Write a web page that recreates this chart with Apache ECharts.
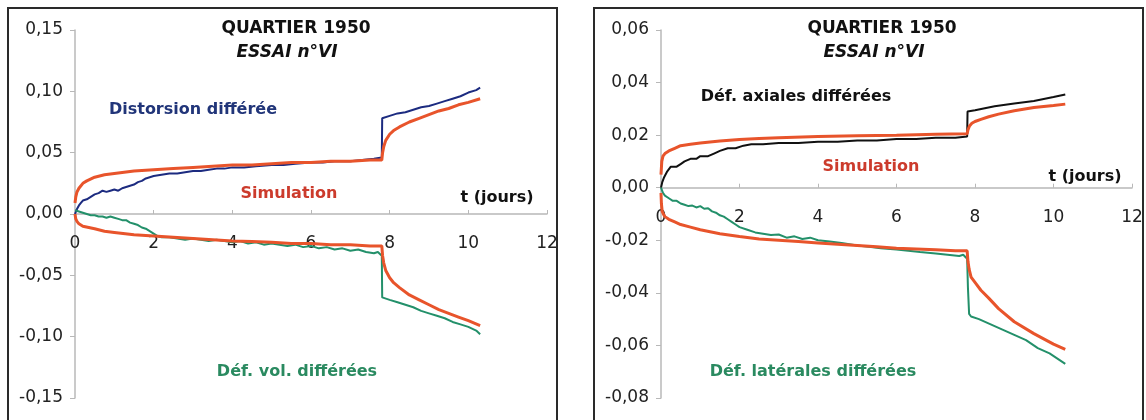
<!DOCTYPE html>
<html>
<head>
<meta charset="utf-8">
<script src="https://cdn.jsdelivr.net/npm/echarts@6/dist/echarts.min.js"></script>
<style>
html,body{margin:0;padding:0;background:#fff;}
#c{width:1146px;height:420px;}
</style>
</head>
<body>
<div id="c"></div>
<script>
// ---- tick labels / axes ----
const xTicks = [0, 2, 4, 6, 8, 10, 12];
const leftYTicks = [-0.15, -0.10, -0.05, 0.00, 0.05, 0.10, 0.15];
const rightYTicks = [-0.08, -0.06, -0.04, -0.02, 0.00, 0.02, 0.04, 0.06];

// ---- left panel data: [t (jours), value] ----
const distorsionExp = [[0,0],[0.05,0.004],[0.1,0.007],[0.15,0.009],[0.2,0.011],[0.3,0.012],[0.4,0.014],[0.5,0.016],[0.6,0.017],[0.7,0.019],[0.8,0.018],[0.9,0.019],[1.0,0.020],[1.1,0.019],[1.2,0.021],[1.3,0.022],[1.4,0.023],[1.5,0.024],[1.6,0.026],[1.7,0.027],[1.8,0.029],[1.9,0.030],[2.0,0.031],[2.2,0.032],[2.4,0.033],[2.6,0.033],[2.8,0.034],[3.0,0.035],[3.2,0.035],[3.4,0.036],[3.6,0.037],[3.8,0.037],[4.0,0.038],[4.3,0.038],[4.6,0.039],[5.0,0.040],[5.3,0.040],[5.6,0.041],[6.0,0.042],[6.3,0.042],[6.6,0.043],[7.0,0.043],[7.3,0.044],[7.6,0.045],[7.8,0.046],[7.81,0.078],[8.0,0.080],[8.2,0.082],[8.4,0.083],[8.6,0.085],[8.8,0.087],[9.0,0.088],[9.2,0.090],[9.4,0.092],[9.6,0.094],[9.8,0.096],[10.0,0.099],[10.2,0.101],[10.3,0.103]];
const distorsionSim = [[0,0.009],[0.02,0.014],[0.05,0.018],[0.1,0.021],[0.2,0.025],[0.3,0.027],[0.5,0.030],[0.75,0.032],[1.0,0.033],[1.5,0.035],[2.0,0.036],[2.5,0.037],[3.0,0.038],[3.5,0.039],[4.0,0.040],[4.5,0.040],[5.0,0.041],[5.5,0.042],[6.0,0.042],[6.5,0.043],[7.0,0.043],[7.5,0.044],[7.8,0.044],[7.82,0.050],[7.85,0.055],[7.9,0.060],[8.0,0.065],[8.1,0.068],[8.25,0.071],[8.5,0.075],[8.75,0.078],[9.0,0.081],[9.25,0.084],[9.5,0.086],[9.75,0.089],[10.0,0.091],[10.3,0.094]];
const volExp = [[0,0.003],[0.1,0.002],[0.2,0.001],[0.3,0.0],[0.4,-0.001],[0.5,-0.001],[0.6,-0.002],[0.7,-0.002],[0.8,-0.003],[0.9,-0.002],[1.0,-0.003],[1.1,-0.004],[1.2,-0.005],[1.3,-0.005],[1.4,-0.007],[1.5,-0.008],[1.6,-0.009],[1.7,-0.011],[1.8,-0.012],[1.9,-0.014],[2.0,-0.016],[2.1,-0.018],[2.2,-0.019],[2.4,-0.019],[2.6,-0.020],[2.8,-0.021],[3.0,-0.020],[3.2,-0.021],[3.4,-0.022],[3.6,-0.021],[3.8,-0.022],[4.0,-0.023],[4.2,-0.022],[4.4,-0.024],[4.6,-0.023],[4.8,-0.025],[5.0,-0.024],[5.2,-0.025],[5.4,-0.026],[5.6,-0.025],[5.8,-0.027],[6.0,-0.026],[6.2,-0.028],[6.4,-0.027],[6.6,-0.029],[6.8,-0.028],[7.0,-0.030],[7.2,-0.029],[7.4,-0.031],[7.6,-0.032],[7.7,-0.031],[7.8,-0.034],[7.81,-0.068],[8.0,-0.070],[8.2,-0.072],[8.4,-0.074],[8.6,-0.076],[8.8,-0.079],[9.0,-0.081],[9.2,-0.083],[9.4,-0.085],[9.6,-0.088],[9.8,-0.090],[10.0,-0.092],[10.2,-0.095],[10.3,-0.098]];
const volSim = [[0,0],[0.02,-0.004],[0.05,-0.006],[0.1,-0.008],[0.2,-0.010],[0.35,-0.011],[0.5,-0.012],[0.75,-0.014],[1.0,-0.015],[1.5,-0.017],[2.0,-0.018],[2.5,-0.019],[3.0,-0.020],[3.5,-0.021],[4.0,-0.022],[4.5,-0.0225],[5.0,-0.023],[5.5,-0.024],[6.0,-0.024],[6.5,-0.025],[7.0,-0.025],[7.5,-0.026],[7.8,-0.026],[7.82,-0.034],[7.85,-0.040],[7.9,-0.046],[8.0,-0.052],[8.1,-0.056],[8.25,-0.060],[8.5,-0.066],[8.75,-0.070],[9.0,-0.074],[9.25,-0.078],[9.5,-0.081],[9.75,-0.084],[10.0,-0.087],[10.3,-0.091]];

// ---- right panel data ----
const axialExp = [[0,0],[0.03,0.002],[0.08,0.004],[0.15,0.006],[0.25,0.008],[0.4,0.008],[0.5,0.009],[0.6,0.010],[0.75,0.011],[0.9,0.011],[1.0,0.012],[1.2,0.012],[1.35,0.013],[1.5,0.014],[1.7,0.015],[1.9,0.015],[2.1,0.016],[2.3,0.0165],[2.6,0.0165],[3.0,0.017],[3.5,0.017],[4.0,0.0175],[4.5,0.0175],[5.0,0.018],[5.5,0.018],[6.0,0.0185],[6.5,0.0185],[7.0,0.019],[7.5,0.019],[7.8,0.0195],[7.81,0.029],[8.0,0.0295],[8.5,0.031],[9.0,0.032],[9.5,0.033],[10.0,0.0345],[10.3,0.0355]];
const axialSim = [[0,0.005],[0.02,0.010],[0.05,0.012],[0.1,0.013],[0.2,0.014],[0.35,0.015],[0.5,0.016],[0.75,0.0165],[1.0,0.017],[1.5,0.0178],[2.0,0.0183],[2.5,0.0187],[3.0,0.019],[4.0,0.0195],[5.0,0.0198],[6.0,0.020],[7.0,0.0203],[7.8,0.0205],[7.82,0.022],[7.86,0.0235],[7.92,0.0245],[8.0,0.0252],[8.15,0.026],[8.35,0.027],[8.6,0.028],[9.0,0.0293],[9.5,0.0305],[10.0,0.0313],[10.3,0.0318]];
const latExp = [[0,0],[0.05,-0.002],[0.1,-0.003],[0.2,-0.004],[0.3,-0.005],[0.4,-0.005],[0.5,-0.006],[0.6,-0.0065],[0.7,-0.007],[0.8,-0.0068],[0.9,-0.0075],[1.0,-0.007],[1.1,-0.008],[1.2,-0.0078],[1.3,-0.009],[1.4,-0.0095],[1.5,-0.0105],[1.6,-0.011],[1.7,-0.012],[1.8,-0.013],[1.9,-0.014],[2.0,-0.015],[2.2,-0.016],[2.4,-0.017],[2.6,-0.0175],[2.8,-0.018],[3.0,-0.0178],[3.2,-0.019],[3.4,-0.0185],[3.6,-0.0195],[3.8,-0.019],[4.0,-0.020],[4.3,-0.0205],[4.6,-0.021],[5.0,-0.022],[5.3,-0.0225],[5.6,-0.023],[6.0,-0.0235],[6.3,-0.024],[6.6,-0.0245],[7.0,-0.025],[7.3,-0.0255],[7.6,-0.026],[7.7,-0.0255],[7.8,-0.027],[7.82,-0.038],[7.85,-0.048],[7.9,-0.049],[8.1,-0.050],[8.4,-0.052],[8.7,-0.054],[9.0,-0.056],[9.3,-0.058],[9.6,-0.061],[9.9,-0.063],[10.1,-0.065],[10.3,-0.067]];
const latSim = [[0,-0.002],[0.01,-0.006],[0.03,-0.009],[0.06,-0.010],[0.1,-0.011],[0.2,-0.012],[0.35,-0.013],[0.5,-0.014],[0.75,-0.015],[1.0,-0.016],[1.5,-0.0175],[2.0,-0.0186],[2.5,-0.0195],[3.0,-0.020],[3.5,-0.0205],[4.0,-0.021],[4.5,-0.0215],[5.0,-0.022],[5.5,-0.0225],[6.0,-0.023],[6.5,-0.0233],[7.0,-0.0236],[7.5,-0.024],[7.8,-0.024],[7.82,-0.028],[7.85,-0.031],[7.9,-0.034],[8.0,-0.036],[8.15,-0.039],[8.35,-0.042],[8.6,-0.046],[9.0,-0.051],[9.5,-0.0555],[10.0,-0.0595],[10.3,-0.0615]];

// ---- texts ----
const titleLine1 = 'QUARTIER 1950';
const titleLine2 = 'ESSAI n°VI';

const FONT = '"DejaVu Sans", "Liberation Sans", Arial, sans-serif';
const C_RED = '#e8542b', C_BLUE = '#1c2b80', C_GREEN = '#23906a', C_BLACK = '#111111';
const GRID_H = 368;

function fmt(v){ return v.toFixed(2).replace('.', ',').replace('-0,00','0,00'); }

function xAxis(gi, yticks){
  const ymin = yticks[0], ymax = yticks[yticks.length-1];
  // move the x axis up to the y = 0 line
  const off = -((0 - ymin) / (ymax - ymin)) * GRID_H;
  return {
    gridIndex: gi, type: 'value', min: xTicks[0], max: xTicks[xTicks.length-1], interval: 2,
    position: 'bottom', offset: off,
    axisLine: {onZero: false, lineStyle: {color: '#b8b8b8', width: 1.5}},
    axisTick: {inside: true, length: 4, lineStyle: {color: '#b8b8b8'}},
    splitLine: {show: false},
    axisLabel: {margin: 21, color: '#222', fontSize: 17, fontFamily: FONT}
  };
}
function yAxis(gi, ticks){
  return {
    gridIndex: gi, type: 'value', min: ticks[0], max: ticks[ticks.length-1], interval: Math.round((ticks[1]-ticks[0])*100)/100,
    axisLine: {show: true, onZero: false, lineStyle: {color: '#b8b8b8', width: 1.5}},
    axisTick: {show: true, length: 5, lineStyle: {color: '#b8b8b8'}},
    splitLine: {show: false},
    axisLabel: {margin: 12, color: '#222', fontSize: 17, fontFamily: FONT, formatter: fmt}
  };
}
function line(gi, data, color, w, z){
  return {type: 'line', xAxisIndex: gi, yAxisIndex: gi, data: data, showSymbol: false, symbol: 'none',
    lineStyle: {color: color, width: w}, z: z, animation: false, silent: true};
}
function txt(x, y, s, color, style, size){
  return {type: 'text', x: x, y: y, z: 100, style: {text: s, fill: color, font: (style || 'bold') + ' ' + (size || 16) + 'px ' + FONT, textAlign: 'center', textVerticalAlign: 'middle'}};
}

const chart = echarts.init(document.getElementById('c'), null, {renderer: 'canvas'});
chart.setOption({
  animation: false,
  backgroundColor: '#ffffff',
  grid: [
    {left: 75, top: 30, width: 472, height: GRID_H, containLabel: false, outerBoundsMode: 'none'},
    {left: 661, top: 30, width: 471, height: GRID_H, containLabel: false, outerBoundsMode: 'none'}
  ],
  xAxis: [xAxis(0, leftYTicks), xAxis(1, rightYTicks)],
  yAxis: [yAxis(0, leftYTicks), yAxis(1, rightYTicks)],
  series: [
    line(0, distorsionExp, C_BLUE, 2, 2),
    line(0, volExp, C_GREEN, 2, 2),
    line(0, distorsionSim, C_RED, 3, 3),
    line(0, volSim, C_RED, 3, 3),
    line(1, axialExp, C_BLACK, 2, 2),
    line(1, latExp, C_GREEN, 2, 2),
    line(1, axialSim, C_RED, 3, 3),
    line(1, latSim, C_RED, 3, 3)
  ],
  graphic: [
    {type: 'rect', shape: {x: 8, y: 8, width: 549, height: 430}, style: {fill: null, stroke: '#2a2a2a', lineWidth: 2}, z: 50},
    {type: 'rect', shape: {x: 594, y: 8, width: 549, height: 430}, style: {fill: null, stroke: '#2a2a2a', lineWidth: 2}, z: 50},
    txt(296, 29, titleLine1, '#111', 'bold', 17),
    txt(287, 53, titleLine2, '#111', 'italic bold', 17),
    txt(193, 110, 'Distorsion différée', '#213579'),
    txt(289, 194, 'Simulation', '#cc3b2c'),
    txt(497, 198, 't (jours)', '#111'),
    txt(297, 372, 'Déf. vol. différées', '#2a8a60'),
    txt(882, 29, titleLine1, '#111', 'bold', 17),
    txt(874, 53, titleLine2, '#111', 'italic bold', 17),
    txt(796, 97, 'Déf. axiales différées', '#111'),
    txt(871, 167, 'Simulation', '#cc3b2c'),
    txt(1085, 177, 't (jours)', '#111'),
    txt(813, 372, 'Déf. latérales différées', '#2a8a60')
  ]
});
</script>
</body>
</html>
